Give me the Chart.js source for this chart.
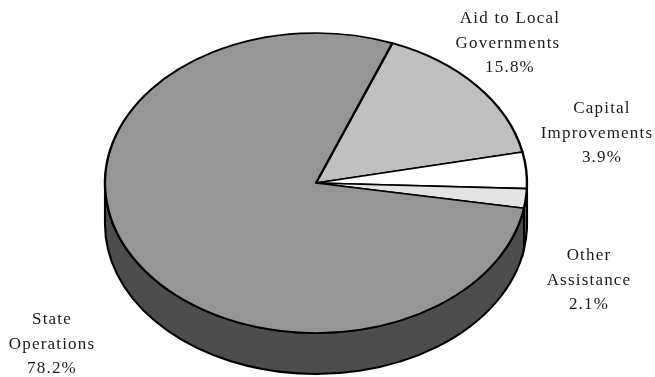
<!DOCTYPE html>
<html>
<head>
<meta charset="utf-8">
<style>
  html, body { margin: 0; padding: 0; background: #fff; }
  canvas { display: block; }
</style>
<script src="https://cdn.jsdelivr.net/npm/chart.js@4/dist/chart.umd.js"></script>
</head>
<body>
<canvas id="chart" width="655" height="377"></canvas>
<script>
// Budget share by category, tilted pie with a drawn rim
const categories = ["Aid to Local Governments", "Capital Improvements", "Other Assistance", "State Operations"];
const shares = [15.8, 3.9, 2.1, 78.2];
const labelLines = [["Aid to Local", "Governments"], ["Capital", "Improvements"], ["Other", "Assistance"], ["State", "Operations"]];

const topColors = ["#c0c0c0", "#ffffff", "#e3e3e3", "#969696"];
const wallColors = ["#606060", "#808080", "#717171", "#4d4d4d"];
const labelAnchors = [[510, 19], [602, 109], [589, 256], [52, 320]];
// second line of a label sits a little off centre in the original
const secondLineShift = [-2, -5, 0, 0];

const squash = 150 / 211;
const depth = 41;

const tiltPlugin = {
  id: "tilt",
  beforeDatasetsDraw(chart) {
    const ctx = chart.ctx;
    const arcs = chart.getDatasetMeta(0).data;

    // rim first, only the part facing the viewer
    ctx.save();
    ctx.lineWidth = 2.1;
    ctx.strokeStyle = "#000";
    arcs.forEach((arc, i) => {
      const a0 = Math.max(arc.startAngle, 0);
      const a1 = Math.min(arc.endAngle, Math.PI);
      if (a1 <= a0) return;
      const ry = arc.outerRadius * squash;
      ctx.beginPath();
      ctx.ellipse(arc.x, arc.y + depth, arc.outerRadius, ry, 0, a0, a1);
      ctx.ellipse(arc.x, arc.y, arc.outerRadius, ry, 0, a1, a0, true);
      ctx.closePath();
      ctx.fillStyle = wallColors[i];
      ctx.fill();
      ctx.stroke();
    });
    ctx.restore();

    const cy = arcs[0].y;
    ctx.save();
    ctx.translate(0, cy);
    ctx.scale(1, squash);
    ctx.translate(0, -cy);
  },
  afterDatasetsDraw(chart) {
    const ctx = chart.ctx;
    ctx.restore();

    ctx.save();
    ctx.font = "17px 'Liberation Serif'";
    ctx.letterSpacing = "1.2px";
    ctx.fillStyle = "#1a1a1a";
    ctx.textAlign = "center";
    ctx.textBaseline = "middle";
    categories.forEach((name, i) => {
      const lines = labelLines[i].concat(shares[i].toFixed(1) + "%");
      lines.forEach((line, j) => {
        const shift = j === 1 ? secondLineShift[i] : 0;
        ctx.fillText(line, labelAnchors[i][0] + shift, labelAnchors[i][1] + j * 24.5);
      });
    });
    ctx.restore();
  },
};

new Chart(document.querySelector("#chart").getContext("2d"), {
  type: "pie",
  data: {
    labels: categories,
    datasets: [
      {
        data: shares,
        backgroundColor: topColors,
        borderColor: "#000",
        borderWidth: 2.4,
        borderJoinStyle: "round",
        radius: 211,
      },
    ],
  },
  options: {
    responsive: false,
    animation: false,
    rotation: 21.2,
    layout: { padding: { right: 23, bottom: 11 } },
    plugins: { legend: { display: false }, tooltip: { enabled: false } },
  },
  plugins: [tiltPlugin],
});
</script>
</body>
</html>
